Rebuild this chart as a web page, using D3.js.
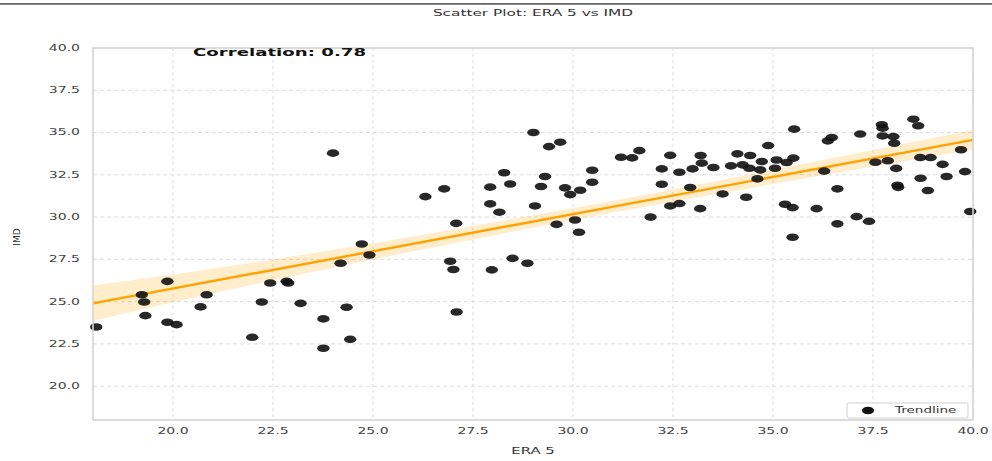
<!DOCTYPE html>
<html>
<head>
<meta charset="utf-8">
<script src="https://cdn.jsdelivr.net/npm/d3@7"></script>
<style>
  html, body { margin: 0; padding: 0; background: #fff; }
  svg { display: block; }
  text { font-family: "DejaVu Sans", sans-serif; }
</style>
</head>
<body>
<svg id="chart" width="992" height="461"></svg>
<script>
// ERA 5 (x) against IMD (y) observations
const era5 = [
  18.08, 19.22, 19.28, 19.31, 19.86, 19.86, 20.09, 20.69, 20.84, 21.98,
  22.22, 22.43, 22.84, 22.88, 23.19, 23.76, 23.76, 24.00, 24.19, 24.34,
  24.43, 24.72, 24.91, 26.31, 26.78, 26.93, 27.01, 27.08, 27.09, 27.93,
  27.93, 27.97, 28.16, 28.28, 28.43, 28.49, 28.86, 29.01, 29.05, 29.20,
  29.30, 29.40, 29.59, 29.68, 29.80, 29.93, 30.05, 30.15, 30.18, 30.48,
  30.48, 31.20, 31.48, 31.66, 31.94, 32.22, 32.22, 32.43, 32.43, 32.66,
  32.66, 32.93, 32.99, 33.18, 33.19, 33.22, 33.51, 33.74, 33.95, 34.11,
  34.24, 34.33, 34.41, 34.43, 34.61, 34.68, 34.72, 34.88, 35.05, 35.09,
  35.30, 35.34, 35.49, 35.49, 35.51, 35.53, 36.09, 36.28, 36.37, 36.47,
  36.61, 36.61, 37.09, 37.18, 37.40, 37.56, 37.72, 37.74, 37.74, 37.87,
  38.01, 38.03, 38.08, 38.11, 38.13, 38.51, 38.63, 38.68, 38.69, 38.87,
  38.94, 39.24, 39.34, 39.70, 39.80, 39.93
];
const imd = [
  23.50, 25.41, 24.98, 24.17, 26.20, 23.78, 23.64, 24.69, 25.41, 22.89,
  24.98, 26.10, 26.20, 26.10, 24.90, 23.98, 22.24, 33.78, 27.27, 24.67,
  22.77, 28.41, 27.76, 31.21, 31.67, 27.39, 26.90, 29.63, 24.39, 31.77,
  30.78, 26.88, 30.29, 32.62, 31.96, 27.56, 27.27, 35.00, 30.66, 31.81,
  32.40, 34.17, 29.57, 34.43, 31.73, 31.33, 29.83, 29.10, 31.59, 32.77,
  32.06, 33.54, 33.50, 33.93, 30.00, 32.85, 31.94, 33.65, 30.66, 32.65,
  30.80, 31.75, 32.85, 30.50, 33.64, 33.19, 32.93, 31.37, 33.03, 33.74,
  33.09, 31.17, 32.89, 33.64, 32.26, 32.79, 33.29, 34.23, 32.89, 33.38,
  30.76, 33.23, 30.56, 28.81, 33.49, 35.20, 30.50, 32.72, 34.51, 34.71,
  31.67, 29.60, 30.03, 34.91, 29.75, 33.24, 35.46, 35.26, 34.80, 33.33,
  34.76, 34.37, 32.88, 31.88, 31.76, 35.79, 35.40, 33.52, 32.30, 31.57,
  33.52, 33.12, 32.40, 33.98, 32.69, 30.33
];

// fitted trend line end points and its confidence band
const trendX = [18, 40];
const trendY = [24.9, 34.57];
const bandX  = [18, 20, 22.5, 25, 27.5, 30, 32.5, 35, 37.5, 40];
const bandHalf = [1.05, 0.82, 0.62, 0.48, 0.40, 0.35, 0.36, 0.42, 0.50, 0.58];

const xTicks = [20, 22.5, 25, 27.5, 30, 32.5, 35, 37.5, 40];
const yTicks = [20, 22.5, 25, 27.5, 30, 32.5, 35, 37.5, 40];

const titleText = "Scatter Plot: ERA 5 vs IMD";
const xLabel = "ERA 5";
const yLabel = "IMD";
const corrText = "Correlation: 0.78";
const legendText = "Trendline";

// ---------------------------------------------------------------
const svg = d3.select("#chart");
const plotL = 93, plotR = 973, plotT = 48, plotB = 420;
const STRETCH = 1.65;   // wide glyphs

const x = d3.scaleLinear().domain([18, 40]).range([plotL, plotR]);
const y = d3.scaleLinear().domain([18, 40]).range([plotB, plotT]);

function label(parent, tx, ty, str, opts) {
  const g = parent.append("g")
    .attr("transform", `translate(${tx},${ty}) scale(${STRETCH},1)`);
  g.append("text")
    .attr("text-anchor", opts.anchor || "middle")
    .attr("dominant-baseline", "central")
    .attr("font-size", opts.size)
    .attr("font-weight", opts.weight || "normal")
    .attr("fill", opts.fill || "#333")
    .text(str);
  return g;
}

// top rule
svg.append("line").attr("x1", 0).attr("x2", 992).attr("y1", 3.8).attr("y2", 3.8)
  .attr("stroke", "#666").attr("stroke-width", 1.8);

// grid
const grid = svg.append("g");
grid.selectAll("line.v").data(xTicks).join("line")
  .attr("x1", d => x(d)).attr("x2", d => x(d))
  .attr("y1", plotT).attr("y2", plotB)
  .attr("stroke", "#dcdcdc").attr("stroke-width", 1).attr("stroke-dasharray", "3,3");
grid.selectAll("line.h").data(yTicks).join("line")
  .attr("x1", plotL).attr("x2", plotR)
  .attr("y1", d => y(d)).attr("y2", d => y(d))
  .attr("stroke", "#dcdcdc").attr("stroke-width", 1).attr("stroke-dasharray", "4,3");

// confidence band
const bandData = bandX.map((bx, i) => {
  const c = trendY[0] + (trendY[1] - trendY[0]) * (bx - trendX[0]) / (trendX[1] - trendX[0]);
  return { x: bx, lo: c - bandHalf[i], hi: c + bandHalf[i] };
});
svg.append("path").datum(bandData)
  .attr("d", d3.area().curve(d3.curveMonotoneX)
    .x(d => x(d.x)).y0(d => y(d.lo)).y1(d => y(d.hi)))
  .attr("fill", "#FFA500").attr("fill-opacity", 0.2);

// trend line
svg.append("path").datum(trendX.map((tx, i) => [tx, trendY[i]]))
  .attr("d", d3.line().x(d => x(d[0])).y(d => y(d[1])))
  .attr("stroke", "#FFA200").attr("stroke-width", 2.4).attr("fill", "none");

// points
svg.append("g").selectAll("ellipse").data(era5.map((v, i) => [v, imd[i]])).join("ellipse")
  .attr("cx", d => x(d[0])).attr("cy", d => y(d[1]))
  .attr("rx", 6.2).attr("ry", 3.8)
  .attr("fill", "#111").attr("fill-opacity", 0.9);

// frame
svg.append("rect").attr("x", plotL).attr("y", plotT)
  .attr("width", plotR - plotL).attr("height", plotB - plotT)
  .attr("fill", "none").attr("stroke", "#d4d4d4").attr("stroke-width", 1.6);

// axes tick labels
const tickG = svg.append("g");
xTicks.forEach(t => label(tickG, x(t), 431, d3.format(".1f")(t), { size: 8.5, fill: "#444" }));
yTicks.forEach(t => label(tickG, 80, y(t), d3.format(".1f")(t), { size: 8.5, fill: "#444", anchor: "end" }));

// titles
label(svg, (plotL + plotR) / 2, 13, titleText, { size: 9.3, fill: "#333" });
label(svg, (plotL + plotR) / 2, 451, xLabel, { size: 9, fill: "#333" });
svg.append("text")
  .attr("transform", `translate(17,237) rotate(-90)`)
  .attr("text-anchor", "middle").attr("dominant-baseline", "central")
  .attr("font-size", 9).attr("fill", "#333").text(yLabel);

// correlation annotation
label(svg, 193, 52, corrText, { size: 11, weight: "bold", fill: "#111", anchor: "start" });

// legend
const lg = svg.append("g");
lg.append("rect").attr("x", 847).attr("y", 403).attr("width", 121).attr("height", 15)
  .attr("rx", 2).attr("fill", "#fff").attr("fill-opacity", 0.8)
  .attr("stroke", "#d0d0d0").attr("stroke-width", 1);
lg.append("ellipse").attr("cx", 868).attr("cy", 410.5).attr("rx", 6).attr("ry", 3.8).attr("fill", "#111");
label(lg, 895, 410.5, legendText, { size: 8.2, fill: "#333", anchor: "start" });
</script>
</body>
</html>
